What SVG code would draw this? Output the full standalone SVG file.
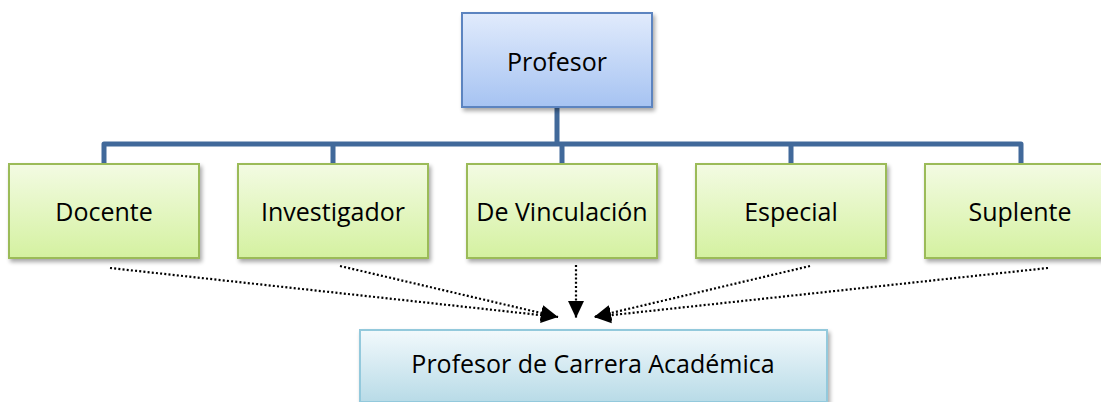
<svg xmlns="http://www.w3.org/2000/svg" width="1101" height="402" viewBox="0 0 1101 402">
<style>
  .lbl { font-family: "Open Sans", "Liberation Sans", sans-serif; font-size: 25px; fill: #000; text-anchor: middle; }
  .green { fill: url(#gGreen); stroke: #9bbb59; stroke-width: 2; filter: url(#shadow); }
  .tree { fill: none; stroke: #41699a; stroke-width: 5; stroke-linejoin: round; stroke-linecap: butt; }
  .dot { fill: none; stroke: #000; stroke-width: 2.2; stroke-dasharray: 2 2.2; }
</style>
<defs>
  <linearGradient id="gBlue" x1="0" y1="0" x2="0" y2="1">
    <stop offset="0" stop-color="#e1ebfc"/>
    <stop offset="1" stop-color="#a6c3f2"/>
  </linearGradient>
  <linearGradient id="gGreen" x1="0" y1="0" x2="0" y2="1">
    <stop offset="0" stop-color="#f3fbe3"/>
    <stop offset="1" stop-color="#d4f1a0"/>
  </linearGradient>
  <linearGradient id="gCyan" x1="0" y1="0" x2="0" y2="1">
    <stop offset="0" stop-color="#f2f9fc"/>
    <stop offset="1" stop-color="#b8dbe7"/>
  </linearGradient>
  <filter id="shadow" x="-10%" y="-10%" width="125%" height="130%">
    <feGaussianBlur in="SourceAlpha" stdDeviation="2"/>
    <feOffset dx="2" dy="3" result="b"/>
    <feComponentTransfer><feFuncA type="linear" slope="0.35"/></feComponentTransfer>
    <feMerge><feMergeNode/><feMergeNode in="SourceGraphic"/></feMerge>
  </filter>
  <marker id="arr" markerUnits="userSpaceOnUse" markerWidth="18" markerHeight="18" viewBox="0 0 18 18" refX="17" refY="9" orient="auto">
    <path d="M0,1 L17,9 L0,17 Z" fill="#000"/>
  </marker>
</defs>

<g id="connectors">
  <path class="tree" d="M557,107 V144 M104,163 V144 H1021 V163 M333,144 V163 M562,144 V163 M791,144 V163"/>
  <path class="dot" marker-end="url(#arr)" d="M110,268 L558,317"/>
  <path class="dot" marker-end="url(#arr)" d="M340,266 L558,317"/>
  <path class="dot" marker-end="url(#arr)" d="M576,265 L576,318"/>
  <path class="dot" marker-end="url(#arr)" d="M810,266 L594,317"/>
  <path class="dot" marker-end="url(#arr)" d="M1048,268 L594,317"/>
</g>

<g id="profesor">
  <rect x="462" y="13" width="190" height="94" fill="url(#gBlue)" stroke="#5b84c0" stroke-width="2" filter="url(#shadow)"/>
  <text class="lbl" x="557" y="71">Profesor</text>
</g>
<g id="docente">
  <rect class="green" x="9" y="164" width="190" height="94"/>
  <text class="lbl" x="104" y="221">Docente</text>
</g>
<g id="investigador">
  <rect class="green" x="238" y="164" width="190" height="94"/>
  <text class="lbl" x="333" y="221">Investigador</text>
</g>
<g id="vinculacion">
  <rect class="green" x="467" y="164" width="190" height="94"/>
  <text class="lbl" x="562" y="221">De Vinculación</text>
</g>
<g id="especial">
  <rect class="green" x="696" y="164" width="190" height="94"/>
  <text class="lbl" x="791" y="221">Especial</text>
</g>
<g id="suplente">
  <rect class="green" x="925" y="164" width="190" height="94"/>
  <text class="lbl" x="1020" y="221">Suplente</text>
</g>
<g id="carrera">
  <rect x="360" y="330" width="467" height="72" fill="url(#gCyan)" stroke="#93c9dc" stroke-width="2" filter="url(#shadow)"/>
  <text class="lbl" x="593" y="373">Profesor de Carrera Académica</text>
</g>
</svg>
